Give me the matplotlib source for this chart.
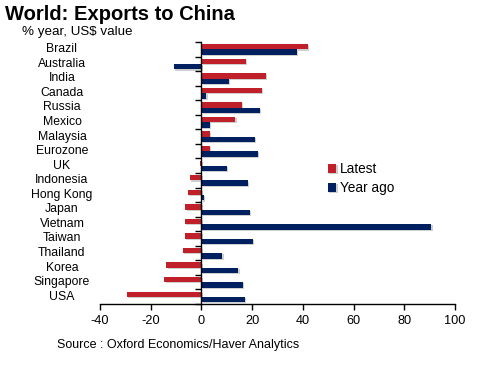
import matplotlib.pyplot as plt
import matplotlib.patheffects as pe
import numpy as np

plt.rcParams["font.family"] = ["Liberation Sans", "DejaVu Sans"]

countries = ["Brazil", "Australia", "India", "Canada", "Russia", "Mexico", "Malaysia",
             "Eurozone", "UK", "Indonesia", "Hong Kong", "Japan", "Vietnam", "Taiwan",
             "Thailand", "Korea", "Singapore", "USA"]
latest = [42, 17.5, 25.5, 23.7, 16, 13.4, 3.4, 3.4, -0.4, -4.7, -5.3, -6.3, -6.6,
          -6.6, -7.2, -13.8, -14.6, -29.4]
year_ago = [37.5, -11, 11, 2, 23, 3.3, 21, 22.4, 10, 18.2, 1, 19, 90.7, 20.3, 8.3,
            14.6, 16.2, 17.1]
xticks = [-40, -20, 0, 20, 40, 60, 80, 100]

RED = "#C0202A"
NAVY = "#002060"

W, H = 481, 366
fig = plt.figure(figsize=(W / 100, H / 100), dpi=100)
ax = fig.add_axes([100 / W, 1 - 304 / H, 355 / W, 262 / H])

y = np.arange(len(countries))
h = 0.37
shadow = [pe.SimplePatchShadow(offset=(0.8, -0.8), shadow_rgbFace="#b0b0b0", alpha=0.6),
          pe.Normal()]
ax.barh(y - 0.17, latest, height=h, color=RED, label="Latest", path_effects=shadow)
ax.barh(y + 0.2, year_ago, height=h, color=NAVY, label="Year ago", path_effects=shadow)

ax.set_xlim(-40, 100)
ax.set_ylim(len(countries) - 0.5, -0.5)
ax.set_xticks(xticks)
ax.set_xticklabels([str(v) for v in xticks], fontsize=9.2)
ax.tick_params(axis="x", direction="out", length=4, width=1, pad=4)

ax.set_yticks(np.arange(len(countries) + 1) - 0.5)
ax.set_yticklabels([])
ax.tick_params(axis="y", direction="out", length=4, width=1)

ax.spines["left"].set_position(("data", 0))
ax.spines["top"].set_visible(False)
ax.spines["right"].set_visible(False)
for s in ("left", "bottom"):
    ax.spines[s].set_linewidth(1)

for i, c in enumerate(countries):
    ax.text(62 / W, 1 - (42 + 14.55 * (i + 0.5)) / H, c, transform=fig.transFigure,
            ha="center", va="center", fontsize=8.8)

leg = ax.legend(loc="upper left", bbox_to_anchor=(316 / W, 1 - 150 / H),
                bbox_transform=fig.transFigure, frameon=False, fontsize=9.8,
                handlelength=0.6, handleheight=0.6, handletextpad=0.25, labelspacing=0.35)

fig.text(5 / W, 1 - 15 / H, "World: Exports to China", fontsize=14.5, fontweight="bold",
         va="center", ha="left")
fig.text(22 / W, 1 - 32 / H, "% year, US$ value", fontsize=9.6, va="center", ha="left")
fig.text(57 / W, 1 - 345 / H, "Source : Oxford Economics/Haver Analytics", fontsize=9,
         va="center", ha="left")

fig.savefig("out.png", dpi=100)
